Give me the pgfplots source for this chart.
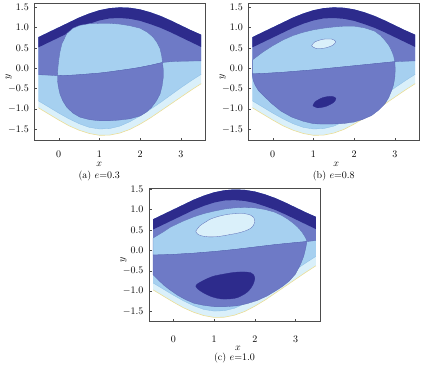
\documentclass[border=0pt]{standalone}
\usepackage{pgfplots}
\pgfplotsset{compat=1.18}
\usepackage{pgfplotstable}
\usepgfplotslibrary{fillbetween}
\definecolor{navy}{RGB}{45,43,140}
\definecolor{medb}{RGB}{110,122,198}
\definecolor{lightb}{RGB}{166,208,240}
\definecolor{vlight}{RGB}{218,240,250}
\definecolor{edgey}{RGB}{235,222,150}
\definecolor{cline}{RGB}{90,105,180}
\definecolor{lline}{RGB}{140,190,230}

\pgfplotstableread{
x T N L2 B
-0.5 0.76 0.51 -0.80 -0.97
-0.25 0.88 0.63 -0.95 -1.12
0 1.00 0.75 -1.10 -1.27
0.25 1.12 0.87 -1.24 -1.41
0.5 1.24 0.99 -1.36 -1.52
0.75 1.34 1.09 -1.45 -1.60
1.0 1.42 1.17 -1.49 -1.645
1.25 1.47 1.22 -1.48 -1.64
1.5 1.49 1.23 -1.42 -1.59
1.75 1.48 1.21 -1.31 -1.50
2.0 1.44 1.16 -1.17 -1.37
2.25 1.37 1.08 -1.01 -1.22
2.5 1.28 0.99 -0.84 -1.05
2.75 1.17 0.88 -0.66 -0.88
3.0 1.05 0.76 -0.48 -0.71
3.25 0.93 0.64 -0.31 -0.54
3.5 0.82 0.52 -0.15 -0.38
}\common

\pgfplotstableread{
x y
-0.5 -0.16
-0.25 -0.17
-0.03 -0.185
0.25 -0.175
0.5 -0.16
0.75 -0.14
1.0 -0.12
1.25 -0.09
1.5 -0.055
1.75 -0.02
2.0 0.02
2.25 0.07
2.55 0.14
2.75 0.16
3.0 0.17
3.25 0.175
3.5 0.18
}\Sa

\pgfplotstableread{
x y
-0.5 -0.14
-0.25 -0.13
0 -0.115
0.25 -0.1
0.5 -0.08
0.75 -0.06
1.0 -0.04
1.25 -0.015
1.5 0.01
1.75 0.035
2.0 0.06
2.25 0.085
2.5 0.11
2.75 0.135
3.0 0.16
3.25 0.17
3.5 0.18
}\Sb

\pgfplotstableread{
x y
-0.5 -0.115
-0.25 -0.11
0 -0.1
0.25 -0.085
0.5 -0.07
0.75 -0.05
1.0 -0.03
1.25 -0.005
1.5 0.02
1.75 0.05
2.0 0.08
2.25 0.11
2.5 0.14
2.75 0.165
3.0 0.19
3.28 0.215
3.5 0.24
}\Sc

\pgfplotsset{
  panel/.style={
    x=40.7pt, y=40.8pt, clip=false,
    xmin=-0.6, xmax=3.6, ymin=-1.76, ymax=1.6,
    xtick={0,1,2,3}, ytick={-1.5,-1,-0.5,0,0.5,1,1.5},
    tick align=inside, tick pos=left,
    major tick length=2.5pt,
    tick style={black!70, thin},
    axis line style={black!70, line width=0.5pt},
    ticklabel style={font=\normalsize},
    xticklabel style={yshift=-7.5pt},
    yticklabel style={xshift=-2pt, /pgf/number format/fixed, /pgf/number format/fixed zerofill, /pgf/number format/precision=1},
    ylabel={$y$},
    ylabel style={at={(axis description cs:-0.15,0.46)}, anchor=center, font=\normalsize},
    xlabel style={anchor=center, font=\normalsize},
  },
}

\newcommand{\bands}[1]{%
  \addplot[draw=none, name path=T] table[x=x,y=T]{\common};
  \addplot[draw=none, name path=N] table[x=x,y=N]{\common};
  \addplot[draw=none, name path=L] table[x=x,y=L2]{\common};
  \addplot[draw=none, name path=B] table[x=x,y=B]{\common};
  \addplot[draw=none, name path=S] table{#1};
  \addplot[vlight] fill between[of=T and B];
  \addplot[lightb] fill between[of=T and L];
  \addplot[medb] fill between[of=T and S];
  \addplot[navy] fill between[of=T and N];
  \addplot[edgey, line width=0.6pt] table[x=x,y=B]{\common};
  \addplot[lline, line width=0.3pt] table[x=x,y=L2]{\common};
  \addplot[cline, line width=0.3pt] table{#1};
}

\begin{document}
\begin{tikzpicture}

% ---------------- (a) ----------------
\begin{axis}[panel, at={(34.3pt,-140pt)}, anchor=south west,
  xlabel={$x$}, xlabel style={at={(axis description cs:0.38,-0.178)}}]
\bands{\Sa}
\addplot[fill=lightb, draw=cline, line width=0.3pt] coordinates {
(-0.03,-0.185) (-0.02,0.0) (0.0,0.19) (0.03,0.4) (0.08,0.6) (0.2,0.85) (0.35,0.98) (0.52,1.05) (0.75,1.09) (1.0,1.1) (1.25,1.1) (1.5,1.08) (1.75,1.04) (2.0,0.98) (2.18,0.88) (2.32,0.76) (2.42,0.62) (2.49,0.48) (2.53,0.3) (2.55,0.14)
(2.25,0.07) (2.0,0.02) (1.75,-0.02) (1.5,-0.055) (1.25,-0.09) (1.0,-0.12) (0.75,-0.14) (0.5,-0.16) (0.25,-0.175)
} -- cycle;
\addplot[fill=medb, draw=cline, line width=0.3pt] coordinates {
(-0.03,-0.185) (0.25,-0.175) (0.5,-0.16) (0.75,-0.14) (1.0,-0.12) (1.25,-0.09) (1.5,-0.055) (1.75,-0.02) (2.0,0.02) (2.25,0.07) (2.55,0.14)
(2.57,-0.05) (2.57,-0.22) (2.54,-0.43) (2.49,-0.63) (2.4,-0.8) (2.28,-0.96) (2.15,-1.08) (2.0,-1.17) (1.75,-1.24) (1.5,-1.27) (1.25,-1.29) (1.0,-1.29) (0.75,-1.26) (0.52,-1.2) (0.35,-1.1) (0.2,-0.96) (0.1,-0.8) (0.03,-0.63) (-0.01,-0.45) (-0.03,-0.3)
} -- cycle;
\node[font=\normalsize] at (axis description cs:0.38,-0.259) {(a) $e$=0.3};
\end{axis}

% ---------------- (b) ----------------
\begin{axis}[panel, at={(248.3pt,-140pt)}, anchor=south west,
  xlabel={$x$}, xlabel style={at={(axis description cs:0.515,-0.178)}}]
\bands{\Sb}
\addplot[fill=lightb, draw=cline, line width=0.3pt] coordinates {
(-0.5,-0.14) (-0.5,0.2) (-0.25,0.39) (0,0.55) (0.25,0.69) (0.5,0.8) (0.75,0.88) (1.0,0.94) (1.25,0.98) (1.5,1.01) (1.75,1.03) (2.0,1.03) (2.25,0.99) (2.5,0.91) (2.65,0.8) (2.76,0.68) (2.86,0.55) (2.92,0.43) (2.97,0.3) (3.0,0.16)
(2.75,0.135) (2.5,0.11) (2.25,0.085) (2.0,0.06) (1.75,0.035) (1.5,0.01) (1.25,-0.015) (1.0,-0.04) (0.75,-0.06) (0.5,-0.08) (0.25,-0.1) (0,-0.115) (-0.25,-0.13)
} -- cycle;
\addplot[fill=medb, draw=cline, line width=0.3pt] coordinates {
(-0.5,-0.14) (-0.25,-0.13) (0,-0.115) (0.25,-0.1) (0.5,-0.08) (0.75,-0.06) (1.0,-0.04) (1.25,-0.015) (1.5,0.01) (1.75,0.035) (2.0,0.06) (2.25,0.085) (2.5,0.11) (2.75,0.135) (3.0,0.16)
(3.01,-0.03) (3.0,-0.22) (2.97,-0.4) (2.92,-0.55) (2.85,-0.72) (2.76,-0.87) (2.6,-1.03) (2.43,-1.16) (2.2,-1.26) (2.0,-1.32) (1.75,-1.355) (1.44,-1.37) (1.2,-1.37) (1.0,-1.36) (0.75,-1.3) (0.47,-1.2) (0.2,-1.05) (-0.02,-0.87) (-0.2,-0.7) (-0.35,-0.55) (-0.43,-0.42) (-0.48,-0.3) (-0.5,-0.2)
} -- cycle;
\addplot[fill=vlight, draw=cline, line width=0.3pt, smooth] coordinates {
(0.955,0.548) (1.055,0.487) (1.269,0.492) (1.472,0.560) (1.546,0.652) (1.445,0.714) (1.231,0.708) (1.028,0.640) (0.955,0.548)
};
\addplot[fill=navy, draw=navy, line width=0.3pt, smooth] coordinates {
(0.988,-0.92) (1.1,-0.972) (1.311,-0.935) (1.498,-0.837) (1.552,-0.737) (1.440,-0.688) (1.229,-0.722) (1.042,-0.823) (0.988,-0.92)
};
\node[font=\normalsize] at (axis description cs:0.5,-0.259) {(b) $e$=0.8};
\end{axis}

% ---------------- (c) ----------------
\begin{axis}[panel, at={(149pt,-321.7pt)}, anchor=south west, ymin=-1.75, ymax=1.53,
  xlabel={$x$}, xlabel style={at={(axis description cs:0.52,-0.197)}},
  xticklabel style={yshift=-3.5pt}]
\bands{\Sc}
\addplot[fill=lightb, draw=cline, line width=0.3pt] coordinates {
(-0.5,-0.115) (-0.5,0.3) (-0.25,0.45) (-0.07,0.57) (0.25,0.72) (0.5,0.82) (0.75,0.9) (1.0,0.96) (1.25,1.01) (1.5,1.04) (1.75,1.05) (2.0,1.04) (2.25,1.0) (2.47,0.94) (2.65,0.86) (2.8,0.77) (2.95,0.66) (3.05,0.57) (3.14,0.47) (3.21,0.37) (3.26,0.28) (3.28,0.215)
(3.0,0.19) (2.75,0.165) (2.5,0.14) (2.25,0.11) (2.0,0.08) (1.75,0.05) (1.5,0.02) (1.25,-0.005) (1.0,-0.03) (0.75,-0.05) (0.5,-0.07) (0.25,-0.085) (0,-0.1) (-0.25,-0.11)
} -- cycle;
\addplot[fill=medb, draw=cline, line width=0.3pt] coordinates {
(-0.5,-0.115) (-0.25,-0.11) (0,-0.1) (0.25,-0.085) (0.5,-0.07) (0.75,-0.05) (1.0,-0.03) (1.25,-0.005) (1.5,0.02) (1.75,0.05) (2.0,0.08) (2.25,0.11) (2.5,0.14) (2.75,0.165) (3.0,0.19) (3.28,0.215)
(3.25,0.05) (3.2,-0.15) (3.12,-0.35) (3.0,-0.58) (2.85,-0.75) (2.7,-0.87) (2.55,-0.97) (2.3,-1.12) (2.06,-1.23) (1.8,-1.31) (1.57,-1.36) (1.3,-1.38) (1.0,-1.38) (0.75,-1.35) (0.51,-1.3) (0.3,-1.21) (0.1,-1.1) (-0.1,-0.96) (-0.23,-0.86) (-0.38,-0.72) (-0.5,-0.6)
} -- cycle;
\addplot[fill=vlight, draw=cline, line width=0.3pt, smooth] coordinates {
(0.55,0.47) (0.65,0.6) (0.8,0.7) (0.92,0.77) (1.1,0.83) (1.33,0.88) (1.55,0.9) (1.74,0.9) (1.9,0.86) (1.98,0.79) (2.0,0.7) (1.97,0.62) (1.9,0.54) (1.75,0.47) (1.57,0.42) (1.3,0.37) (1.08,0.335) (0.85,0.33) (0.67,0.36) (0.58,0.41) (0.55,0.47)
};
\addplot[fill=navy, draw=navy, line width=0.3pt, smooth] coordinates {
(0.55,-0.88) (0.6,-0.95) (0.75,-1.05) (0.95,-1.14) (1.16,-1.19) (1.4,-1.19) (1.57,-1.16) (1.75,-1.07) (1.86,-0.98) (1.95,-0.85) (2.0,-0.7) (1.97,-0.6) (1.9,-0.55) (1.74,-0.53) (1.5,-0.54) (1.25,-0.58) (1.0,-0.63) (0.84,-0.69) (0.68,-0.77) (0.58,-0.83) (0.55,-0.88)
};
\node[font=\normalsize] at (axis description cs:0.5,-0.268) {(c) $e$=1.0};
\end{axis}
\path (0,0) rectangle (443pt,-365pt);
\end{tikzpicture}
\end{document}
